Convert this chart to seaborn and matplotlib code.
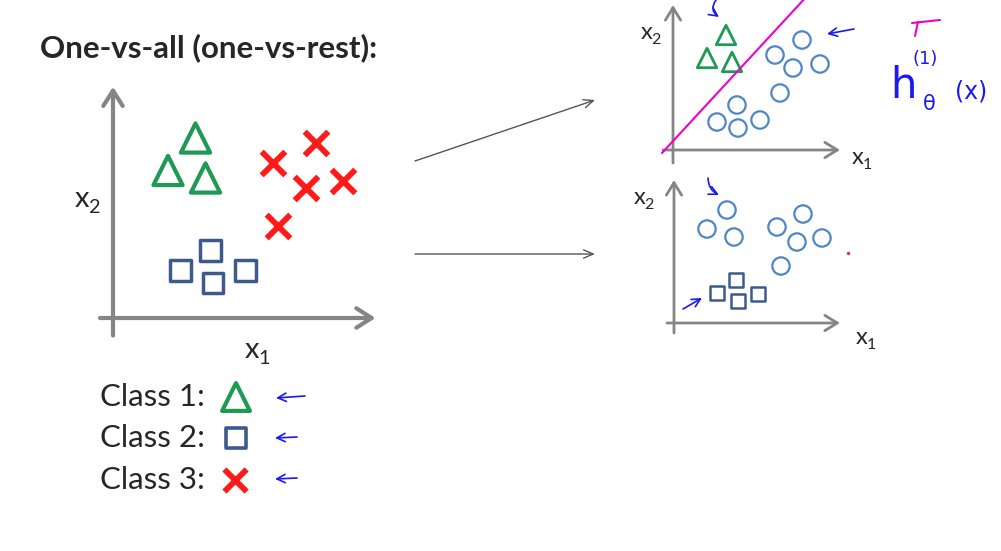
import matplotlib
matplotlib.use("Agg")
import matplotlib.pyplot as plt
import seaborn as sns

sns.set_style("white")
plt.rcParams['font.family'] = ['Lato', 'DejaVu Sans']

# ---- data: point positions in panel units (origin = where the axes cross) ----
# left panel (1 unit = 25 px)
tri_x = [3.3, 2.2, 3.7]
tri_y = [7.2, 5.9, 5.6]
sq_x = [2.7, 3.9, 4.0, 5.3]
sq_y = [1.9, 2.7, 1.4, 1.9]
cross_x = [8.1, 6.4, 7.7, 9.2, 6.6]
cross_y = [7.0, 6.2, 5.2, 5.5, 3.7]

# right-top panel: class 1 vs rest (1 unit = 10 px)
pos1_x = [5.3, 3.4, 5.9]
pos1_y = [11.5, 9.2, 8.8]
rest1_x = [12.9, 10.2, 12.0, 14.7, 10.7, 6.4, 4.4, 6.5, 8.7]
rest1_y = [11.0, 9.5, 8.2, 8.6, 5.7, 4.5, 2.8, 2.2, 3.0]
boundary_x = [-1.1, 13.5]
boundary_y = [-0.3, 15.5]

# right-bottom panel: class 2 vs rest
pos2_x = [6.2, 4.3, 6.4, 8.4]
pos2_y = [4.3, 3.0, 2.2, 2.9]
rest2_x = [5.3, 3.3, 6.0, 12.9, 10.3, 12.3, 14.8, 10.7]
rest2_y = [11.3, 9.4, 8.6, 10.9, 9.6, 8.1, 8.5, 5.7]

class_labels = ["Class 1:", "Class 2:", "Class 3:"]

GREEN = "#1f9a55"
NAVY = "#3d5a8c"
RED = "#ff1a1a"
LBLUE = "#4f86c6"
GRAY = "#858585"
PEN = "#1a1aee"
MAGENTA = "#ee00cc"

W, H = 1001, 551
fig = plt.figure(figsize=(W / 100, H / 100), dpi=100)


def panel(x0, y0, unit, xlim, ylim):
    left = x0 + xlim[0] * unit
    bottom = y0 - ylim[0] * unit
    w = (xlim[1] - xlim[0]) * unit
    h = (ylim[1] - ylim[0]) * unit
    ax = fig.add_axes([left / W, 1 - bottom / H, w / W, h / H])
    ax.set_xlim(*xlim)
    ax.set_ylim(*ylim)
    ax.axis("off")
    ax.patch.set_alpha(0)
    return ax


def arrows(ax, xr, yr, lw, hl, hw):
    style = f"->,head_length={hl},head_width={hw}"
    kw = dict(arrowstyle=style, lw=lw, color=GRAY, shrinkA=0, shrinkB=0)
    ax.annotate("", xy=(xr[1], 0), xytext=(xr[0], 0), arrowprops=kw, annotation_clip=False)
    ax.annotate("", xy=(0, yr[1]), xytext=(0, yr[0]), arrowprops=kw, annotation_clip=False)


def pts(ax, x, y, marker, size, color, lw, filled=False):
    if filled:
        sns.scatterplot(x=x, y=y, ax=ax, marker=marker, s=size ** 2, color=color,
                        edgecolor=None, linewidth=lw, clip_on=False, zorder=3)
    else:
        sns.scatterplot(x=x, y=y, ax=ax, marker=marker, s=size ** 2, facecolor="none",
                        edgecolor=color, linewidth=lw, clip_on=False, zorder=3)


# ---- left panel ----
ax1 = panel(113, 318, 25, (-1, 11), (-1, 10))
arrows(ax1, (-0.52, 10.5), (-0.7, 9.25), 3.0, 1.1, 0.7)
pts(ax1, tri_x, tri_y, "^", 21, GREEN, 3.0)
pts(ax1, sq_x, sq_y, "s", 15, NAVY, 2.5)
pts(ax1, cross_x, cross_y, "x", 17, RED, 4.2, filled=True)

# ---- right top panel ----
ax2 = panel(673, 150, 10, (-2, 18), (-2, 15.5))
arrows(ax2, (-1.0, 16.7), (-1.3, 14.5), 2.0, 0.9, 0.55)
ax2.plot(boundary_x, boundary_y, color=MAGENTA, lw=1.5, clip_on=False, zorder=4)
pts(ax2, pos1_x, pos1_y, "^", 14, GREEN, 2.0)
pts(ax2, rest1_x, rest1_y, "o", 12.5, LBLUE, 1.6)

# ---- right bottom panel ----
ax3 = panel(674, 323, 10, (-2, 18), (-2, 15.5))
arrows(ax3, (-0.7, 16.6), (-1.0, 14.3), 2.0, 0.9, 0.55)
pts(ax3, pos2_x, pos2_y, "s", 10, NAVY, 1.8)
pts(ax3, rest2_x, rest2_y, "o", 12.5, LBLUE, 1.6)

# ---- overlay in pixel coordinates for text and annotations ----
ov = fig.add_axes([0, 0, 1, 1])
ov.set_xlim(0, W)
ov.set_ylim(H, 0)
ov.axis("off")
ov.patch.set_alpha(0)

ov.text(40, 48, "One-vs-all (one-vs-rest):", fontsize=22.5, fontweight="bold",
        ha="left", va="center")


def xlabel(x, y, sub, fs):
    ov.text(x, y, "x", fontsize=fs, ha="left", va="baseline")
    ov.text(x + fs * 0.62, y + fs * 0.3, sub, fontsize=fs * 0.68, ha="left", va="baseline")


xlabel(75, 207, "2", 21)
xlabel(245, 358, "1", 21)
xlabel(641, 39, "2", 17)
xlabel(852, 164, "1", 17)
xlabel(634, 204, "2", 17)
xlabel(856, 344, "1", 17)

# connecting arrows
gk = dict(arrowstyle="->,head_length=0.7,head_width=0.3", lw=1.0, color="#555555",
          shrinkA=0, shrinkB=0)
ov.annotate("", xy=(595, 100), xytext=(415, 161), arrowprops=gk)
ov.annotate("", xy=(595, 254), xytext=(415, 254), arrowprops=gk)

# class legend
legend_y = [397, 438, 480]
for lab, yy in zip(class_labels, legend_y):
    ov.text(100, yy, lab, fontsize=22.5, ha="left", va="center")
sns.scatterplot(x=[236], y=[legend_y[0]], ax=ov, marker="^", s=20 ** 2, facecolor="none",
                edgecolor=GREEN, linewidth=3.0, zorder=3)
sns.scatterplot(x=[236], y=[legend_y[1]], ax=ov, marker="s", s=14 ** 2, facecolor="none",
                edgecolor=NAVY, linewidth=2.6, zorder=3)
sns.scatterplot(x=[235], y=[legend_y[2]], ax=ov, marker="x", s=16 ** 2, color=RED,
                edgecolor=None, linewidth=4.2, zorder=3)

# handwritten pen marks
pk = dict(arrowstyle="->,head_length=0.6,head_width=0.3", lw=1.2, color=PEN,
          shrinkA=0, shrinkB=0)
ov.annotate("", xy=(276, 398), xytext=(305, 396), arrowprops=pk)
ov.annotate("", xy=(275, 438), xytext=(297, 437), arrowprops=pk)
ov.annotate("", xy=(275, 479), xytext=(297, 478), arrowprops=pk)
ov.annotate("", xy=(827, 34), xytext=(854, 29), arrowprops=pk)
ov.annotate("", xy=(719, 17), xytext=(716, 0),
            arrowprops=dict(pk, connectionstyle="arc3,rad=0.5"))
ov.annotate("", xy=(719, 195), xytext=(708, 178),
            arrowprops=dict(pk, connectionstyle="arc3,rad=0.3"))
ov.annotate("", xy=(702, 298), xytext=(683, 309), arrowprops=pk)

ov.text(890, 98, "h", fontsize=30, color=PEN, family="DejaVu Sans", ha="left",
        va="baseline")
ov.text(923, 110, "θ", fontsize=15, color=PEN, family="DejaVu Sans", ha="left",
        va="baseline")
ov.text(913, 64, "(1)", fontsize=13, color=PEN, family="DejaVu Sans", ha="left",
        va="baseline")
ov.text(955, 98, "(x)", fontsize=17, color=PEN, family="DejaVu Sans", ha="left",
        va="baseline")
ov.plot([912, 940], [23, 20], color=MAGENTA, lw=1.5)
ov.plot([918, 915], [22, 36], color=MAGENTA, lw=1.5)
ov.plot([848], [253], marker="o", ms=2.5, color="#dd3333", mec="none")

fig.savefig("out.png", dpi=100, facecolor="white")
